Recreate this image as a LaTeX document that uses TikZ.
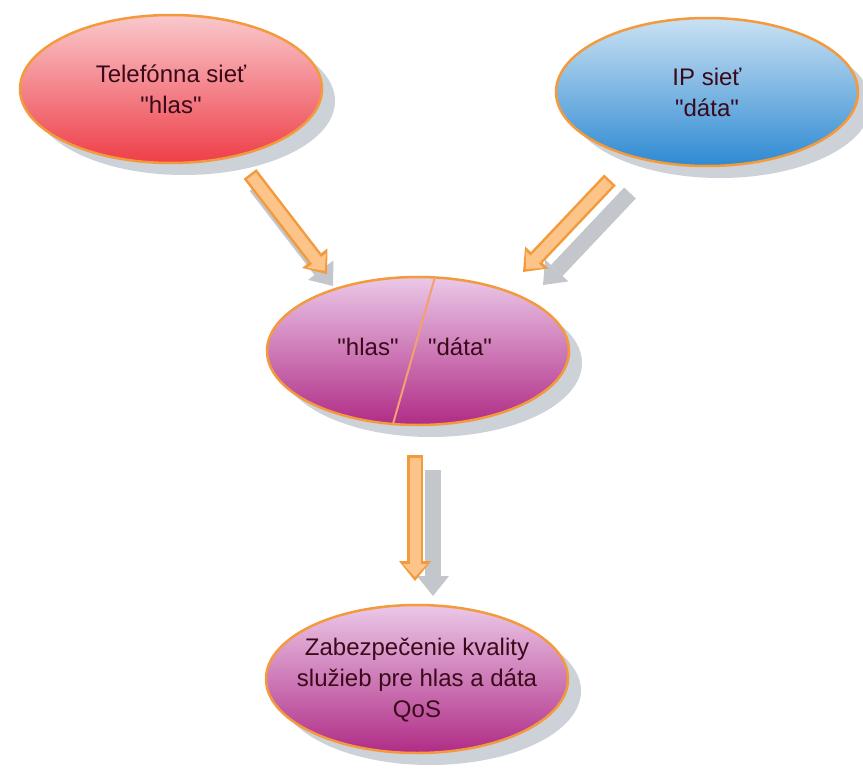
\documentclass[tikz,border=0pt]{standalone}
\usepackage{fontspec}
\setmainfont{Liberation Sans}[Ligatures=TeXOff]
\usetikzlibrary{arrows.meta,shapes.geometric,shadows}
\definecolor{edgeorange}{HTML}{F39A3C}
\definecolor{arrowfill}{HTML}{FCC488}
\definecolor{shadowgray}{HTML}{CDD1D8}
\definecolor{arrowshadow}{HTML}{C3C6CB}
\definecolor{txt}{HTML}{3A0A1A}
\definecolor{redtop}{HTML}{F9C9CC}
\definecolor{redbot}{HTML}{EE3E48}
\definecolor{bluetop}{HTML}{CAE1F3}
\definecolor{bluebot}{HTML}{2E8AD2}
\definecolor{purtop}{HTML}{EBC8E8}
\definecolor{purbot}{HTML}{B02C86}
\definecolor{divider}{HTML}{F2A070}
\begin{document}
\begin{tikzpicture}[x=1pt,y=-1pt,
  bubble/.style={ellipse, draw=edgeorange, line width=2.5pt,
    minimum width=302pt, minimum height=148pt, inner sep=0pt,
    shading=axis, shading angle=0,
    drop shadow={shadow xshift=13pt, shadow yshift=-12pt, fill=shadowgray, opacity=1}},
  label text/.style={font=\fontsize{24}{31}\selectfont, text=txt, align=center, inner sep=0pt},
  shadowarrow/.style={draw=arrowshadow, line width=16pt,
    -{Triangle[width=32pt 0,length=20pt 0,line width=0pt]}},
  arrowedge/.style={draw=edgeorange, line width=16pt,
    -{Triangle[width=32pt 0,length=20pt 0,line width=0pt]}},
  arrowcore/.style={draw=arrowfill, line width=11pt, shorten >=4pt, shorten <=2.5pt,
    -{Triangle[width=24pt 0,length=13pt 0,line width=0pt]}}
]
\useasboundingbox (0,0) rectangle (863,771);

% arrow end points
\coordinate (l0) at (250,174);  \coordinate (l1) at (327,274);
\coordinate (r0) at (610,180);  \coordinate (r1) at (523,272);
\coordinate (d0) at (415,455);  \coordinate (d1) at (415,581);
\coordinate (ls0) at (256,186); \coordinate (ls1) at (333,286);
\coordinate (rs0) at (630,193); \coordinate (rs1) at (543,285);
\coordinate (ds0) at (433,470); \coordinate (ds1) at (433,596);

% arrow shadows
\draw[shadowarrow] (ls0) -- (ls1);
\draw[shadowarrow] (rs0) -- (rs1);
\draw[shadowarrow] (ds0) -- (ds1);

% ellipses
\node[bubble, top color=redtop, bottom color=redbot] (tel) at (171,89) {};
\node[bubble, top color=bluetop, bottom color=bluebot] (ip) at (707,92) {};
\node[bubble, top color=purtop, bottom color=purbot] (mix) at (418,351) {};
\node[bubble, top color=purtop, bottom color=purbot] (qos) at (417,679) {};

% texts
\node[label text] (teltext) at (tel) {Telefónna sieť\\"hlas"};
\node[label text] (iptext) at (ip) {IP sieť\\"dáta"};
\node[label text] (qostext) at (417,680) {Zabezpečenie kvality\\služieb pre hlas a dáta\\QoS};

% split of the middle ellipse
\draw[divider, line width=2pt] (435,277) -- (393,424);
\node[label text] (hlas) at (368,347) {"hlas"};
\node[label text] (data) at (460,347) {"dáta"};

% orange block arrows
\draw[arrowedge] (l0) -- (l1);
\draw[arrowcore] (l0) -- (l1);
\draw[arrowedge] (r0) -- (r1);
\draw[arrowcore] (r0) -- (r1);
\draw[arrowedge] (d0) -- (d1);
\draw[arrowcore] (d0) -- (d1);
\end{tikzpicture}
\end{document}
